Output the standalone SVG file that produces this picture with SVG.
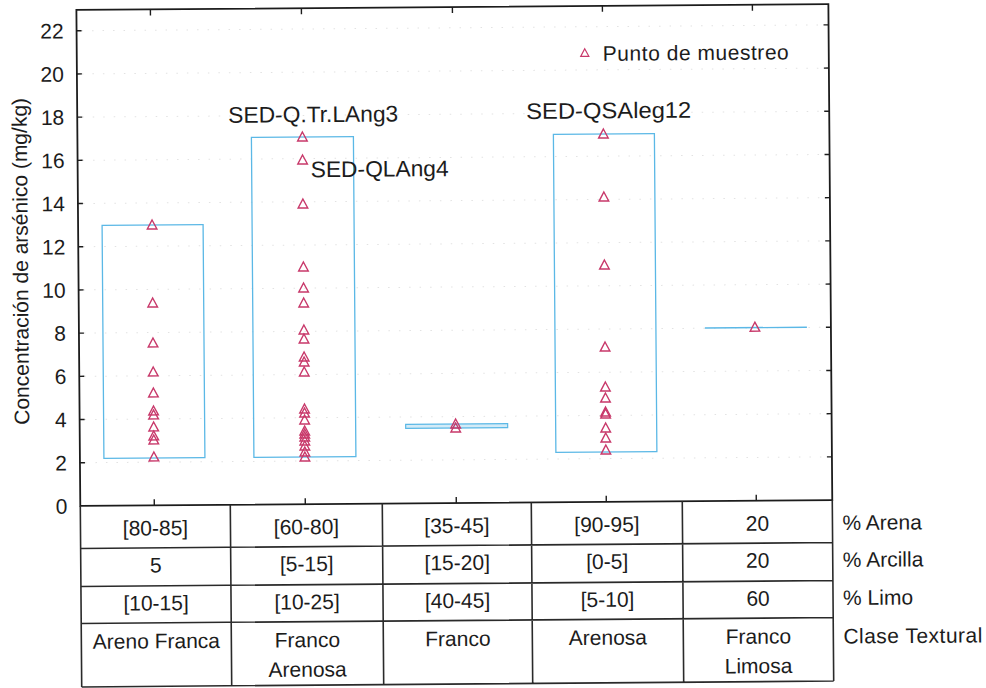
<svg xmlns="http://www.w3.org/2000/svg" width="986" height="688" viewBox="0 0 986 688">
<defs>
<style>
text{font-family:'Liberation Sans',Arial,sans-serif;fill:#1c1c1c}
.tick{font-size:21px;text-anchor:end}
.cell{font-size:21px;text-anchor:middle}
.rowlab{font-size:21px}
.lab{font-size:22.5px}
.frame{fill:none;stroke:#1c1c1c;stroke-width:1.8}
.tl{stroke:#2a2a2a;stroke-width:1.6;fill:none}
.box{fill:none;stroke:#5bb8e6;stroke-width:1.3}
.pt{fill:none;stroke:#c8386a;stroke-width:1.4}
.grid{stroke:#e2e2e2;stroke-width:1;stroke-dasharray:1.5 9}
.tk{stroke:#1c1c1c;stroke-width:1.4}
</style>
<path id="tri" d="M0,-5 L4.8,4 L-4.8,4 Z"/>
</defs>
<rect width="986" height="688" fill="#fff"/>
<g transform="rotate(-0.45 455 340)">
<g id="grid">
<line class="grid" x1="84" y1="459.8" x2="826" y2="459.8"/>
<line class="grid" x1="84" y1="416.6" x2="826" y2="416.6"/>
<line class="grid" x1="84" y1="373.4" x2="826" y2="373.4"/>
<line class="grid" x1="84" y1="330.2" x2="826" y2="330.2"/>
<line class="grid" x1="84" y1="287" x2="826" y2="287"/>
<line class="grid" x1="84" y1="243.8" x2="826" y2="243.8"/>
<line class="grid" x1="84" y1="200.6" x2="826" y2="200.6"/>
<line class="grid" x1="84" y1="157.4" x2="826" y2="157.4"/>
<line class="grid" x1="84" y1="114.2" x2="826" y2="114.2"/>
<line class="grid" x1="84" y1="71" x2="826" y2="71"/>
<line class="grid" x1="84" y1="27.8" x2="826" y2="27.8"/>
</g>
<g id="frame">
<rect class="frame" x="79" y="7" width="752" height="496"/>
<path class="tk" d="M79,459.8h5M79,416.6h5M79,373.4h5M79,330.2h5M79,287h5M79,243.8h5M79,200.6h5M79,157.4h5M79,114.2h5M79,71h5M79,27.8h5"/>
<path class="tk" d="M831,459.8h-5M831,416.6h-5M831,373.4h-5M831,330.2h-5M831,287h-5M831,243.8h-5M831,200.6h-5M831,157.4h-5M831,114.2h-5M831,71h-5M831,27.8h-5"/>
<path class="tk" d="M153,503v-6M304,503v-6M455,503v-6M605,503v-6M755,503v-6M153,7v6M304,7v6M455,7v6M605,7v6M755,7v6"/>
</g>
<g id="yaxis">
<text class="tick" x="66" y="510.5">0</text>
<text class="tick" x="66" y="467.3">2</text>
<text class="tick" x="66" y="424.1">4</text>
<text class="tick" x="66" y="380.9">6</text>
<text class="tick" x="66" y="337.7">8</text>
<text class="tick" x="66" y="294.5">10</text>
<text class="tick" x="66" y="251.3">12</text>
<text class="tick" x="66" y="208.1">14</text>
<text class="tick" x="66" y="164.9">16</text>
<text class="tick" x="66" y="121.7">18</text>
<text class="tick" x="66" y="78.5">20</text>
<text class="tick" x="66" y="35.3">22</text>
<text x="28.5" y="258" font-size="21" text-anchor="middle" transform="rotate(-90 28.5 258)">Concentración de arsénico (mg/kg)</text>
</g>
<g id="legend">
<use href="#tri" class="pt" transform="translate(587 54) scale(0.85)"/>
<text x="605" y="62" font-size="21" textLength="186" lengthAdjust="spacing">Punto de muestreo</text>
</g>
<g id="areno-franca">
<rect class="box" x="103" y="222.6" width="101" height="233"/>
<g class="pt">
<use href="#tri" x="153" y="222.6"/><use href="#tri" x="153" y="300.6"/><use href="#tri" x="153" y="340.6"/><use href="#tri" x="153" y="369.6"/><use href="#tri" x="153" y="390.6"/><use href="#tri" x="153" y="408.6"/><use href="#tri" x="153" y="412.6"/><use href="#tri" x="153" y="424.6"/><use href="#tri" x="153" y="433.6"/><use href="#tri" x="153" y="437.6"/><use href="#tri" x="153" y="454.6"/>
</g>
</g>
<g id="franco-arenosa">
<rect class="box" x="253" y="135.8" width="102" height="320"/>
<g class="pt">
<use href="#tri" x="304" y="135.8"/><use href="#tri" x="304" y="158.8"/><use href="#tri" x="304" y="202.8"/><use href="#tri" x="304" y="265.8"/><use href="#tri" x="304" y="286.8"/><use href="#tri" x="304" y="301.8"/><use href="#tri" x="304" y="328.8"/><use href="#tri" x="304" y="337.8"/><use href="#tri" x="304" y="355.8"/><use href="#tri" x="304" y="360.8"/><use href="#tri" x="304" y="370.8"/><use href="#tri" x="304" y="407.8"/><use href="#tri" x="304" y="411.8"/><use href="#tri" x="304" y="418.8"/><use href="#tri" x="304" y="429.8"/><use href="#tri" x="304" y="432.8"/><use href="#tri" x="304" y="435.8"/><use href="#tri" x="304" y="439.8"/><use href="#tri" x="304" y="444.8"/><use href="#tri" x="304" y="450.8"/><use href="#tri" x="304" y="455.8"/>
</g>
<text class="lab" x="230" y="121" textLength="170" lengthAdjust="spacingAndGlyphs">SED-Q.Tr.LAng3</text>
<text class="lab" x="312" y="176" textLength="138" lengthAdjust="spacingAndGlyphs">SED-QLAng4</text>
</g>
<g id="franco">
<rect x="405" y="424" width="102" height="4" fill="#d3ebf7" stroke="#5bb8e6" stroke-width="1.2"/>
<g class="pt">
<use href="#tri" x="455" y="424"/><use href="#tri" x="455" y="428"/>
</g>
</g>
<g id="arenosa">
<rect class="box" x="555" y="135.2" width="101" height="318"/>
<g class="pt">
<use href="#tri" x="605" y="135.2"/><use href="#tri" x="605" y="198.2"/><use href="#tri" x="605" y="266.2"/><use href="#tri" x="605" y="348.2"/><use href="#tri" x="605" y="388.2"/><use href="#tri" x="605" y="399.2"/><use href="#tri" x="605" y="413.2"/><use href="#tri" x="605" y="415.2"/><use href="#tri" x="605" y="429.2"/><use href="#tri" x="605" y="439.2"/><use href="#tri" x="605" y="451.2"/>
</g>
<text class="lab" x="528" y="119.5" textLength="165" lengthAdjust="spacingAndGlyphs">SED-QSAleg12</text>
</g>
<g id="franco-limosa">
<line x1="705" y1="330" x2="807" y2="330" stroke="#5bb8e6" stroke-width="1.4"/>
<use href="#tri" class="pt" x="755" y="329.5"/>
</g>
<g id="table">
<path class="tl" d="M79,503V684M229,503V684M381,503V684M530,503V684M681,503V684M831,503V684M79,545.5H831M79,583.5H831M79,620.5H831M79,684H831"/>
<text class="cell" x="154" y="533">[80-85]</text>
<text class="cell" x="305" y="533">[60-80]</text>
<text class="cell" x="455.5" y="533">[35-45]</text>
<text class="cell" x="605.5" y="533">[90-95]</text>
<text class="cell" x="756" y="533">20</text>
<text class="cell" x="154" y="570">5</text>
<text class="cell" x="305" y="570">[5-15]</text>
<text class="cell" x="455.5" y="570">[15-20]</text>
<text class="cell" x="605.5" y="570">[0-5]</text>
<text class="cell" x="756" y="570">20</text>
<text class="cell" x="154" y="608">[10-15]</text>
<text class="cell" x="305" y="608">[10-25]</text>
<text class="cell" x="455.5" y="608">[40-45]</text>
<text class="cell" x="605.5" y="608">[5-10]</text>
<text class="cell" x="756" y="608">60</text>
<text class="cell" x="154" y="646">Areno Franca</text>
<text class="cell" x="305" y="646">Franco</text>
<text class="cell" x="305" y="675.5">Arenosa</text>
<text class="cell" x="455.5" y="646">Franco</text>
<text class="cell" x="605.5" y="646">Arenosa</text>
<text class="cell" x="756" y="646">Franco</text>
<text class="cell" x="756" y="675.5">Limosa</text>
<text class="rowlab" x="841" y="533">% Arena</text>
<text class="rowlab" x="841" y="570">% Arcilla</text>
<text class="rowlab" x="841" y="608">% Limo</text>
<text class="rowlab" x="841" y="646.5" textLength="139" lengthAdjust="spacing">Clase Textural</text>
</g>
</g>
</svg>
